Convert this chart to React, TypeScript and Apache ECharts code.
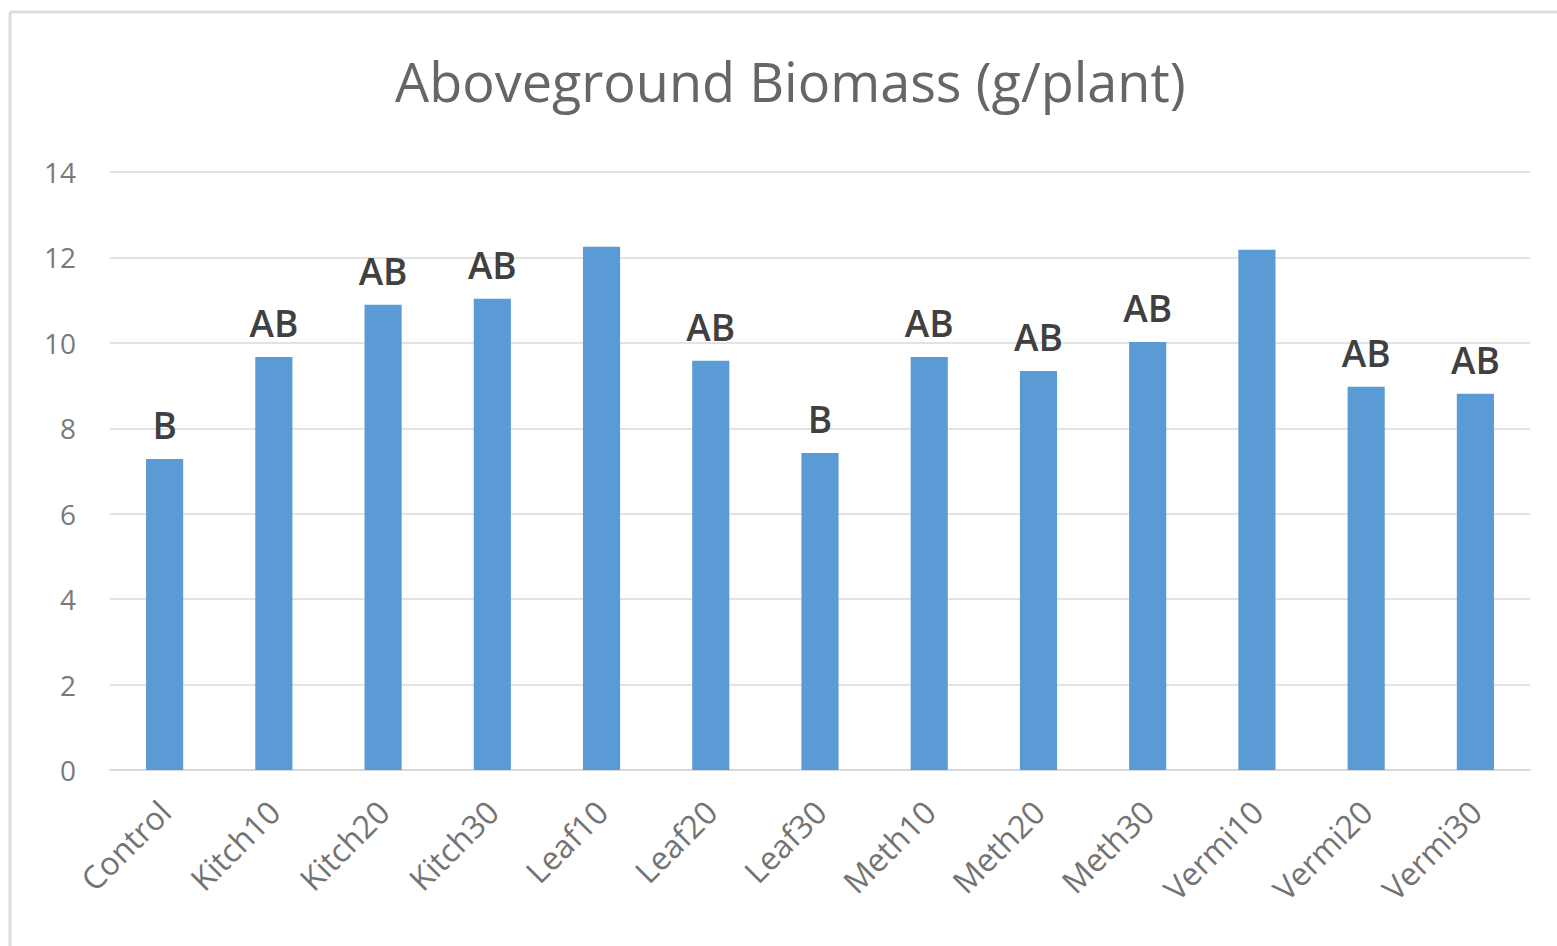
import React, { useEffect, useRef } from "react";
import * as echarts from "echarts";

const categories = ["Control", "Kitch10", "Kitch20", "Kitch30", "Leaf10", "Leaf20", "Leaf30", "Meth10", "Meth20", "Meth30", "Vermi10", "Vermi20", "Vermi30"];
const values = [7.28, 9.67, 10.89, 11.03, 12.25, 9.58, 7.42, 9.67, 9.34, 10.02, 12.18, 8.97, 8.81];
const letters = ["B", "AB", "AB", "AB", "", "AB", "B", "AB", "AB", "AB", "", "AB", "AB"];
const yTicks = { min: 0, max: 14, interval: 2 };
const title = "Aboveground Biomass (g/plant)";

export default function App() {
  const ref = useRef<HTMLDivElement>(null);
  useEffect(() => {
    if (!ref.current) return;
    const chart = echarts.init(ref.current, null, { renderer: "svg" });
    chart.setOption({
      animation: false,
      backgroundColor: "#ffffff",
      title: {
        text: title,
        left: 395,
        top: 54,
        padding: 0,
        textStyle: { fontFamily: "Open Sans", fontSize: 54, fontWeight: "normal", color: "#666666" },
      },
      graphic: [
        {
          type: "line",
          shape: { x1: 10, y1: 12, x2: 1557, y2: 12 },
          style: { stroke: "#dcdcdc", lineWidth: 3 },
          silent: true,
        },
        {
          type: "line",
          shape: { x1: 10, y1: 12, x2: 10, y2: 946 },
          style: { stroke: "#dcdcdc", lineWidth: 3 },
          silent: true,
        },
      ],
      grid: { left: 110, right: 27, top: 172, bottom: 176 },
      xAxis: {
        type: "category",
        data: categories,
        axisLine: { lineStyle: { color: "#d9d9d9", width: 2 } },
        axisTick: { show: false },
        axisLabel: {
          interval: 0,
          rotate: 45,
          fontFamily: "Open Sans",
          fontSize: 32,
          color: "#737373",
          margin: 36,
        },
      },
      yAxis: {
        type: "value",
        min: yTicks.min,
        max: yTicks.max,
        interval: yTicks.interval,
        axisLine: { show: false },
        axisTick: { show: false },
        splitLine: { lineStyle: { color: "#e3e3e3", width: 2 } },
        axisLabel: { fontFamily: "Open Sans", fontSize: 28, color: "#7a7a7a", margin: 34 },
      },
      series: [
        {
          type: "bar",
          data: values,
          barWidth: "34%",
          itemStyle: { color: "#5B9BD5" },
          label: {
            show: true,
            position: "top",
            distance: 16,
            formatter: (p: any) => letters[p.dataIndex],
            fontFamily: "Open Sans",
            fontSize: 37,
            fontWeight: 600,
            color: "#404040",
          },
        },
      ],
    });
    return () => chart.dispose();
  }, []);
  return <div ref={ref} style={{ position: "absolute", left: 0, top: 0, width: 1557, height: 946 }} />;
}
